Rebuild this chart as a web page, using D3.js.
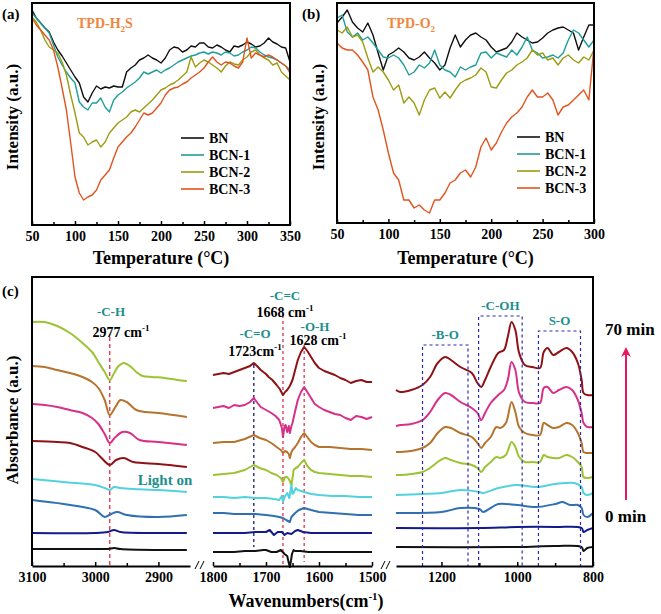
<!DOCTYPE html>
<html><head><meta charset="utf-8">
<script src="https://cdn.jsdelivr.net/npm/d3@7"></script>
<style>
body{margin:0;background:#fff;}
svg{display:block;font-family:"Liberation Serif","Times New Roman",serif;font-weight:bold;}
</style></head>
<body><svg id="c" width="661" height="614"></svg>
<script>
// ---------- Panel (a): TPD-H2S ----------
const tempA = [50,55,60,65,70,75,80,85,90,95,100,105,110,115,120,125,130,135,140,145,150,155,160,165,170,175,180,185,190,195,200,205,210,215,220,225,230,235,240,245,250,255,260,265,270,275,280,285,290,295,300,305,310,315,320,325,330,335,340,345,350];
const bnA   = [210,202,197,192,188,178,170,164,157,150,143,137,123,118,127,134,131,133,132,134,133,133,148,152,155,160,162,165,162,160,157,162,170,173,172,168,170,174,173,177,177,173,172,175,173,170,168,174,173,175,178,176,173,174,177,182,178,176,173,172,158];
const bcn1A = [207,202,197,192,187,175,163,155,148,142,137,118,113,110,117,117,122,113,108,120,125,128,132,135,138,142,148,146,148,150,147,150,152,155,158,160,162,164,165,167,168,166,168,167,165,168,167,164,165,168,170,173,172,168,165,163,162,160,157,154,150];
const bcn2A = [203,198,190,180,173,170,167,158,145,125,107,87,83,75,78,80,73,78,87,92,97,100,103,108,110,108,112,116,120,125,130,132,135,137,140,144,148,163,153,157,160,158,155,152,148,154,158,156,155,160,163,168,170,165,162,160,155,157,148,144,140];
const bcn3A = [202,195,190,185,180,170,153,132,110,77,43,27,20,23,25,30,40,45,50,62,73,78,83,87,93,100,107,105,107,112,117,125,130,132,133,136,138,142,145,148,152,158,163,158,155,158,157,154,152,158,182,162,167,165,163,165,163,160,157,154,147];

// ---------- Panel (b): TPD-O2 ----------
const tempB = [50,55,60,65,70,75,80,85,90,95,100,105,110,115,120,125,130,135,140,145,150,155,160,165,170,175,180,185,190,195,200,205,210,215,220,225,230,235,240,245,250,255,260,265,270,275,280,285,290,295,300];
const bnB   = [197,203,210,198,192,188,197,185,167,150,165,168,172,168,162,160,163,168,162,157,150,155,172,185,173,180,185,187,183,180,173,168,170,172,178,187,183,180,177,178,182,187,190,192,193,190,187,170,183,195,195];
const bcn1B = [202,205,188,183,187,180,183,177,170,163,162,165,162,155,145,148,155,152,157,170,155,150,148,143,153,150,153,155,167,168,162,167,165,163,170,165,173,183,170,167,162,163,165,162,167,180,190,187,180,173,180];
const bcn2B = [190,187,193,183,185,178,162,148,153,148,140,130,135,117,123,117,105,120,130,132,122,128,122,130,137,140,142,145,152,148,133,132,140,147,150,155,158,162,170,165,167,160,162,155,162,165,160,157,163,160,170];
const bcn3B = [177,172,170,170,165,158,150,123,110,90,67,47,40,20,20,12,15,10,7,20,20,27,37,40,47,50,43,53,73,82,70,77,88,97,103,107,113,123,130,123,123,127,120,105,113,115,120,125,130,120,173];

const tpdNames  = ["BN","BCN-1","BCN-2","BCN-3"];
const tpdColors = ["#111111","#1f9e9a","#9c9c12","#e2541f"];

// ---------- Panel (c): in-situ DRIFTS ----------
const ticksC1 = [3100,3000,2900];
const ticksC2 = [1800,1700,1600,1500];
const ticksC3 = [1200,1000,800];
// region 3100-2850 (top to bottom)
const chYG = [[3100,244],[3080,244],[3060,240],[3040,233],[3020,223],[3005,214],[2995,204],[2985,194],[2977,186],[2970,193],[2963,200],[2955,203],[2945,200],[2935,194],[2925,190],[2910,189],[2890,188],[2870,186],[2855,185]];
const chBR = [[3100,200],[3080,199],[3060,196],[3040,193],[3020,189],[3005,184],[2995,178],[2985,166],[2977,151],[2968,159],[2960,166],[2950,164],[2935,156],[2920,154],[2900,153],[2855,149]];
const chMG = [[3100,162],[3080,161],[3060,159],[3040,156],[3020,153],[3005,148],[2995,142],[2985,132],[2977,123],[2968,129],[2957,134],[2945,133],[2930,126],[2900,124],[2855,121]];
const chDR = [[3100,125],[3060,124],[3040,123],[3020,119],[3000,114],[2990,108],[2977,101],[2967,106],[2955,108],[2940,104],[2925,103],[2900,102],[2855,99]];
const chCY = [[3100,87],[3050,84],[3000,81],[2985,78],[2977,76],[2970,79],[2960,78],[2940,77],[2900,76],[2855,74]];
const chSB = [[3100,66],[3050,62],[3000,56],[2985,49],[2975,52],[2965,54],[2950,51],[2900,49],[2855,51]];
const chNV = [[3100,33],[3000,33],[2980,34],[2970,36],[2960,34],[2900,33],[2855,33]];
const chBK = [[3100,17],[3000,17],[2980,17],[2970,18],[2960,17],[2900,16],[2855,16]];
// region 1800-1500
const mdDR = [[1800,191],[1790,192],[1780,193],[1770,192],[1760,194],[1750,196],[1740,198],[1730,200],[1723,203],[1715,199],[1710,196],[1700,192],[1695,189],[1688,186],[1680,181],[1674,177],[1668,171],[1664,174],[1660,176],[1655,180],[1650,186],[1645,196],[1640,206],[1634,214],[1628,219],[1622,215],[1615,209],[1608,203],[1600,198],[1590,195],[1580,193],[1570,191],[1560,188],[1550,186],[1540,183],[1530,185],[1520,186],[1510,184],[1500,184]];
const mdMG = [[1800,158],[1790,159],[1780,160],[1770,158],[1760,161],[1750,160],[1740,161],[1730,164],[1723,168],[1716,163],[1710,159],[1700,156],[1690,153],[1682,150],[1675,146],[1670,138],[1668,129],[1665,140],[1663,141],[1660,134],[1657,140],[1655,133],[1652,140],[1650,143],[1645,155],[1640,166],[1634,174],[1628,179],[1622,174],[1615,168],[1608,162],[1600,159],[1590,156],[1580,154],[1570,152],[1560,151],[1550,148],[1540,146],[1530,150],[1520,149],[1510,147],[1500,149]];
const mdBR = [[1800,123],[1780,124],[1760,124],[1740,127],[1723,131],[1712,128],[1700,126],[1690,123],[1680,119],[1672,116],[1668,113],[1664,115],[1660,114],[1657,112],[1655,108],[1652,114],[1650,116],[1645,119],[1640,123],[1634,129],[1628,133],[1622,129],[1615,124],[1608,121],[1600,119],[1580,119],[1560,118],[1540,117],[1520,117],[1500,116]];
const mdYG = [[1800,91],[1780,92],[1760,93],[1740,96],[1723,101],[1712,98],[1700,96],[1690,93],[1680,91],[1672,88],[1668,84],[1664,89],[1660,89],[1656,86],[1652,81],[1649,91],[1648,96],[1644,98],[1640,99],[1634,103],[1628,106],[1622,100],[1615,96],[1608,94],[1600,93],[1580,92],[1560,91],[1540,90],[1520,90],[1500,89]];
const mdCY = [[1800,69],[1780,69],[1760,68],[1740,69],[1720,68],[1700,68],[1685,67],[1675,66],[1670,70],[1668,64],[1664,70],[1660,73],[1656,68],[1652,81],[1650,72],[1648,73],[1644,78],[1640,76],[1634,75],[1628,74],[1615,72],[1600,71],[1575,70],[1550,70],[1525,69],[1500,69]];
const mdSB = [[1800,53],[1780,53],[1760,52],[1740,52],[1720,52],[1700,51],[1685,50],[1675,49],[1668,48],[1662,46],[1655,44],[1652,49],[1645,53],[1638,56],[1628,58],[1615,56],[1600,54],[1575,53],[1550,52],[1525,51],[1500,51]];
const mdNV = [[1800,33],[1780,33],[1760,33],[1740,33],[1720,34],[1700,34],[1693,36],[1685,31],[1678,34],[1670,34],[1665,31],[1660,33],[1652,32],[1645,35],[1640,36],[1630,34],[1615,33],[1600,33],[1550,33],[1500,33]];
const mdBK = [[1800,14],[1760,14],[1740,15],[1720,15],[1705,16],[1700,16],[1690,14],[1680,14],[1672,16],[1665,12],[1660,10],[1657,3],[1655,-1],[1653,5],[1651,12],[1648,16],[1645,15],[1635,15],[1620,14],[1580,14],[1540,14],[1500,14]];
// region 1320-800
const loDR = [[1320,176],[1309,174],[1280,176],[1250,181],[1230,189],[1210,203],[1190,209],[1175,206],[1150,199],[1120,193],[1105,183],[1095,179],[1085,186],[1070,199],[1050,213],[1035,216],[1025,229],[1015,244],[1005,236],[995,213],[980,201],[960,199],[940,198],[930,214],[920,218],[905,211],[890,214],[870,218],[855,214],[840,203],[830,186],[825,173],[815,171],[800,171]];
const loMG = [[1320,140],[1309,141],[1280,142],[1250,146],[1230,154],[1210,166],[1190,173],[1175,171],[1150,164],[1120,158],[1105,153],[1095,146],[1085,153],[1070,163],[1050,171],[1035,176],[1025,186],[1015,204],[1005,196],[995,173],[980,164],[960,163],[940,163],[930,178],[920,179],[905,173],[890,176],[870,179],[855,176],[840,166],[830,153],[825,143],[815,139],[800,139]];
const loBR = [[1320,114],[1309,114],[1280,115],[1250,118],[1230,123],[1210,133],[1190,139],[1175,138],[1150,133],[1120,129],[1105,123],[1095,118],[1085,123],[1070,129],[1055,139],[1045,138],[1030,143],[1015,164],[1005,154],[995,139],[980,133],[960,131],[940,131],[930,143],[920,141],[905,138],[890,139],[870,143],[855,141],[840,133],[830,123],[825,114],[815,113],[800,113]];
const loYG = [[1320,91],[1309,91],[1280,92],[1250,94],[1230,98],[1210,104],[1190,108],[1175,106],[1150,103],[1120,101],[1105,98],[1095,94],[1085,99],[1070,104],[1055,109],[1045,108],[1030,111],[1015,124],[1005,119],[995,109],[980,104],[960,104],[940,104],[930,111],[920,109],[905,108],[890,108],[870,111],[855,109],[840,104],[830,99],[825,89],[815,88],[800,89]];
const loCY = [[1320,71],[1250,72],[1200,73],[1150,76],[1100,74],[1090,73],[1050,78],[1000,81],[950,79],[900,82],[850,83],[830,79],[825,73],[815,71],[800,73]];
const loSB = [[1320,53],[1200,54],[1150,58],[1100,57],[1090,54],[1070,58],[1050,62],[1000,61],[950,59],[900,62],[880,64],[860,61],[840,61],[830,58],[825,51],[815,49],[800,53]];
const loNV = [[1320,38],[1100,38],[1000,39],[900,39],[830,38],[825,34],[815,36],[800,38]];
const loBK = [[1320,19],[1000,19],[900,20],[830,19],[825,15],[815,18],[800,19]];

const ftirColors = {YG:"#9cc332",BR:"#b5742c",MG:"#d63089",DR:"#8e1216",CY:"#52d2de",SB:"#2f70b2",NV:"#121a8c",BK:"#111111"};

// ================== drawing ==================
const svg = d3.select("#c");
const teal = "#1d8f8c";
const fmt = d3.format("d");

function tpdPanel(temps, series, xDom, xR, yDom, yR, legX, legY, title, titleX, sub){
  const x = d3.scaleLinear(xDom, xR);
  const y = d3.scaleLinear(yDom, yR);
  const g = svg.append("g");
  const line = d3.line().x((d,i)=>x(temps[i])).y(d=>y(d));
  series.forEach((s,i)=>{
    g.append("path").attr("d", line(s)).attr("fill","none")
      .attr("stroke", tpdColors[i]).attr("stroke-width",1.4).attr("stroke-linejoin","round");
  });
  g.append("rect").attr("x",xR[0]).attr("y",yR[1]).attr("width",xR[1]-xR[0]).attr("height",yR[0]-yR[1])
    .attr("fill","none").attr("stroke","#000").attr("stroke-width",2);
  const ax = g.append("g").attr("transform",`translate(0,${yR[0]})`)
    .call(d3.axisBottom(x).tickValues(d3.range(xDom[0], xDom[1]+1, 50)).tickFormat(fmt).tickSize(-4).tickPadding(6).tickSizeOuter(0));
  ax.select(".domain").remove();
  ax.selectAll("text").attr("font-size",14).attr("font-family","Liberation Serif").attr("font-weight","bold").attr("fill","#000");
  ax.selectAll("line").attr("stroke-width",1.5);
  const mn = g.append("g").attr("transform",`translate(0,${yR[0]})`)
    .call(d3.axisBottom(x).tickValues(d3.range(xDom[0]+25, xDom[1], 50)).tickSize(-3).tickFormat(""));
  mn.select(".domain").remove();
  mn.selectAll("line").attr("stroke-width",1.5);
  tpdNames.forEach((n,i)=>{
    const yy = legY + i*17;
    g.append("line").attr("x1",legX).attr("x2",legX+23).attr("y1",yy).attr("y2",yy)
      .attr("stroke",tpdColors[i]).attr("stroke-width",1.6);
    g.append("text").attr("x",legX+28).attr("y",yy+5).attr("font-size",14).text(n);
  });
  const t = g.append("text").attr("x",titleX).attr("y",28).attr("font-size",14).attr("fill","#f0853e");
  t.append("tspan").text("TPD-"+title[0]);
  t.append("tspan").attr("dy",4).attr("font-size",9).text("2");
  if(sub) t.append("tspan").attr("dy",-4).text(sub);
  g.append("text").attr("x",(xR[0]+xR[1])/2).attr("y",264).attr("text-anchor","middle").attr("font-size",18).text("Temperature (°C)");
  return g;
}

tpdPanel(tempA,[bnA,bcn1A,bcn2A,bcn3A],[50,350],[32,290],[-5,217],[225,3],181,138,["H"],77,"S");
tpdPanel(tempB,[bnB,bcn1B,bcn2B,bcn3B],[50,300],[337,594],[-3,217],[223,3],517,137,["O"],387,null);

svg.append("text").attr("transform","translate(18,117) rotate(-90)").attr("text-anchor","middle").attr("font-size",17).text("Intensity (a.u.)");
svg.append("text").attr("transform","translate(324,117) rotate(-90)").attr("text-anchor","middle").attr("font-size",17).text("Intensity (a.u.)");
svg.append("text").attr("x",2).attr("y",19).attr("font-size",15).text("(a)");
svg.append("text").attr("x",302).attr("y",19).attr("font-size",15).text("(b)");
svg.append("text").attr("x",2).attr("y",296).attr("font-size",15).text("(c)");

// ---- panel c ----
const yC = d3.scaleLinear([0,289],[566,277]);
const xC1 = d3.scaleLinear([3100,2850],[32,190]);
const xC2 = d3.scaleLinear([1800,1500],[213,372]);
const xC3 = d3.scaleLinear([1320,800],[396,593]);
const gc = svg.append("g");

function drawSpectra(x, list, curve){
  const line = d3.line().x(d=>x(d[0])).y(d=>yC(d[1])).curve(curve);
  list.forEach(([data,col])=>{
    gc.append("path").attr("d",line(data)).attr("fill","none").attr("stroke",ftirColors[col])
      .attr("stroke-width",2).attr("stroke-linejoin","round");
  });
}
function vdash(x, wn, v0, v1, col, dash){
  gc.append("line").attr("x1",x(wn)).attr("x2",x(wn)).attr("y1",yC(v0)).attr("y2",yC(v1))
    .attr("stroke",col).attr("stroke-width",1.3).attr("stroke-dasharray",dash);
}

vdash(xC1,2977,229,0,"#e0304a","4,3");
vdash(xC2,1723,201,19,"#1a1a7a","3,3");
vdash(xC2,1668,251,0,"#e0304a","3,3");
vdash(xC2,1628,221,4,"#e0304a","3,3");

drawSpectra(xC1,[[chYG,"YG"],[chBR,"BR"],[chMG,"MG"],[chDR,"DR"],[chCY,"CY"],[chSB,"SB"],[chNV,"NV"],[chBK,"BK"]], d3.curveCatmullRom);
drawSpectra(xC2,[[mdDR,"DR"],[mdMG,"MG"],[mdBR,"BR"],[mdYG,"YG"],[mdCY,"CY"],[mdSB,"SB"],[mdNV,"NV"],[mdBK,"BK"]], d3.curveLinear);
drawSpectra(xC3,[[loDR,"DR"],[loMG,"MG"],[loBR,"BR"],[loYG,"YG"],[loCY,"CY"],[loSB,"SB"],[loNV,"NV"],[loBK,"BK"]], d3.curveCatmullRom);

function dbox(w0,w1,vTop,label,ly){
  const x0 = xC3(w0), x1 = xC3(w1);
  gc.append("path").attr("d",`M${x0},${yC(0)}V${yC(vTop)}H${x1}V${yC(0)}`).attr("fill","none")
    .attr("stroke","#2a2ab0").attr("stroke-width",1.2).attr("stroke-dasharray","3,3");
  gc.append("text").attr("x",(x0+x1)/2).attr("y",ly).attr("text-anchor","middle").attr("font-size",13).attr("fill",teal).text(label);
}
dbox(1250,1130,221,"-B-O",339);
dbox(1102,987,250,"-C-OH",310);
dbox(944,833,235,"S-O",325);

gc.append("path").attr("d",`M32,566V277H593V566`).attr("fill","none").attr("stroke","#000").attr("stroke-width",2);

function axisC(x, major, minor){
  const a = gc.append("g").attr("transform","translate(0,566)")
    .call(d3.axisBottom(x).tickValues(major).tickFormat(fmt).tickSize(-4).tickPadding(6).tickSizeOuter(0));
  a.select(".domain").attr("stroke-width",2);
  a.selectAll("line").attr("stroke-width",1.5);
  a.selectAll("text").attr("font-size",14).attr("font-family","Liberation Serif").attr("font-weight","bold").attr("fill","#000");
  const m = gc.append("g").attr("transform","translate(0,566)")
    .call(d3.axisBottom(x).tickValues(minor).tickSize(-3).tickFormat("").tickSizeOuter(0));
  m.select(".domain").remove();
  m.selectAll("line").attr("stroke-width",1.5);
}
axisC(xC1, ticksC1, [3050,2950]);
axisC(xC2, ticksC2, [1750,1650,1550]);
axisC(xC3, ticksC3, [1100,900]);

[197,202,383,388].forEach(bx=>{
  gc.append("line").attr("x1",bx-2).attr("x2",bx+2).attr("y1",569).attr("y2",561).attr("stroke","#000").attr("stroke-width",1);
});

gc.append("text").attr("x",111).attr("y",316).attr("text-anchor","middle").attr("font-size",13).attr("fill",teal).text("-C-H");
const t1 = gc.append("text").attr("x",121).attr("y",337).attr("text-anchor","middle").attr("font-size",14);
t1.append("tspan").text("2977 cm"); t1.append("tspan").attr("dy",-6).attr("font-size",9).text("-1");
gc.append("text").attr("x",165).attr("y",485).attr("text-anchor","middle").attr("font-size",15).attr("fill",teal).text("Light on");

gc.append("text").attr("x",285).attr("y",300).attr("text-anchor","middle").attr("font-size",13).attr("fill",teal).text("-C=C");
const t2 = gc.append("text").attr("x",285).attr("y",317).attr("text-anchor","middle").attr("font-size",14);
t2.append("tspan").text("1668 cm"); t2.append("tspan").attr("dy",-6).attr("font-size",9).text("-1");
gc.append("text").attr("x",255).attr("y",338).attr("text-anchor","middle").attr("font-size",13).attr("fill",teal).text("-C=O");
const t3 = gc.append("text").attr("x",255).attr("y",356).attr("text-anchor","middle").attr("font-size",14);
t3.append("tspan").text("1723cm"); t3.append("tspan").attr("dy",-6).attr("font-size",9).text("-1");
gc.append("text").attr("x",315).attr("y",331).attr("text-anchor","middle").attr("font-size",13).attr("fill",teal).text("-O-H");
const t4 = gc.append("text").attr("x",318).attr("y",345).attr("text-anchor","middle").attr("font-size",14);
t4.append("tspan").text("1628 cm"); t4.append("tspan").attr("dy",-6).attr("font-size",9).text("-1");

svg.append("defs").append("marker").attr("id","ah").attr("viewBox","0 0 10 10").attr("refX",8).attr("refY",5)
  .attr("markerWidth",7).attr("markerHeight",5).attr("orient","auto")
  .append("path").attr("d","M0,0L10,5L0,10L3,5Z").attr("fill","#e8175d");
svg.append("line").attr("x1",626).attr("x2",626).attr("y1",500).attr("y2",349).attr("stroke","#e8175d").attr("stroke-width",2).attr("marker-end","url(#ah)");
svg.append("text").attr("x",605).attr("y",335).attr("font-size",17).text("70 min");
svg.append("text").attr("x",605).attr("y",522).attr("font-size",17).text("0 min");

svg.append("text").attr("transform","translate(18,420) rotate(-90)").attr("text-anchor","middle").attr("font-size",17).text("Absorbance (a.u.)");
const wl = svg.append("text").attr("x",306).attr("y",607).attr("text-anchor","middle").attr("font-size",18);
wl.append("tspan").text("Wavenumbers(cm");
wl.append("tspan").attr("dy",-7).attr("font-size",11).text("-1");
wl.append("tspan").attr("dy",7).text(")");
</script></body></html>
